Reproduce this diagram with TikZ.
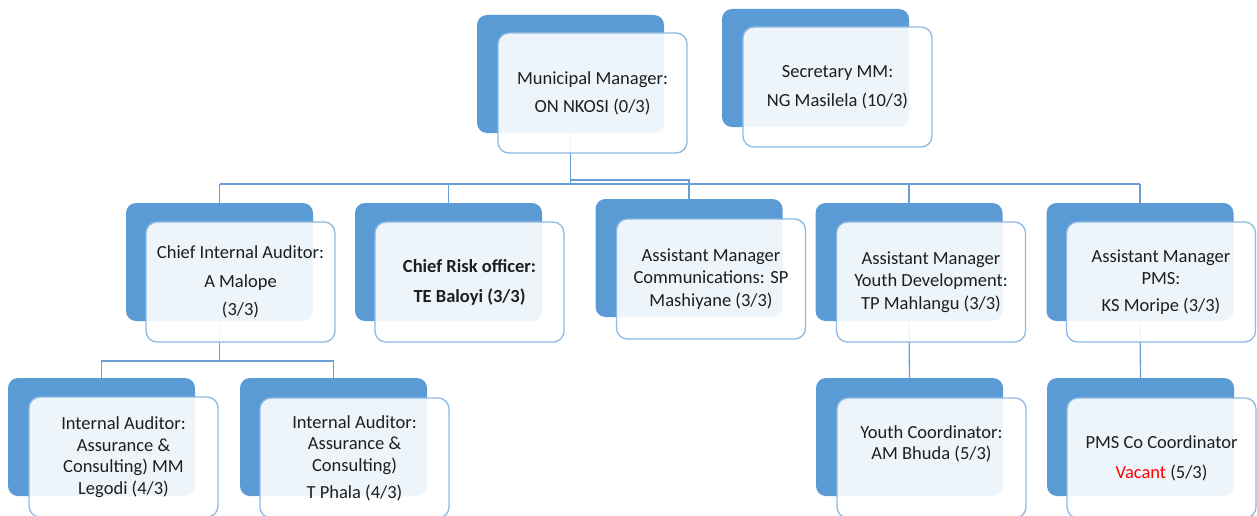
\documentclass[tikz,border=0pt]{standalone}
\usepackage{fontspec}
\setmainfont{Carlito}
\usetikzlibrary{backgrounds}
\definecolor{accent}{HTML}{5B9BD5}
\definecolor{frontline}{HTML}{8DB9E2}
\definecolor{conn}{HTML}{6A9FD6}
\definecolor{txt}{HTML}{1E1E1E}
\definecolor{vacant}{HTML}{FF0000}
\begin{document}
\begin{tikzpicture}[x=1pt,y=-1pt,
  back/.style={fill=accent, draw=none, rounded corners=10pt, minimum width=187pt, minimum height=118pt, inner sep=0pt},
  front/.style={draw=frontline, line width=1.3pt, fill=white, fill opacity=0.9, text opacity=1, rounded corners=11pt, minimum width=189pt, minimum height=120pt, inner sep=0pt, align=center, text=txt, font=\fontsize{18.5}{22.5}\selectfont},
  tight/.style={font=\fontsize{18.5}{21.5}\selectfont},
  link/.style={draw=conn, line width=1.3pt}]
\clip (0,0) rectangle (1257,516);
% top level
\node[back] (mmb) at (570.5,74) {};
\node[front] (mm) at (592.5,93) {Municipal Manager:\\[5.5pt] ON NKOSI (0/3)};
\node[back] (secb) at (815.5,68) {};
\node[front] (sec) at (837.5,87) {Secretary MM:\\[6.5pt] NG Masilela (10/3)};
% second level
\node[back] (ciab) at (219.5,262) {};
\node[front] (cia) at (240.5,282) {Chief Internal Auditor:\\[7pt] A Malope\\[5.5pt] (3/3)};
\node[back] (crob) at (448.5,262) {};
\node[front] (cro) at (469.5,282) {\textbf{Chief Risk officer:}\\[7.5pt] \textbf{TE Baloyi (3/3)}};
\node[back] (commb) at (689,258) {};
\node[front] (comm) at (711,279) {Assistant Manager\\ Communications: SP\\ Mashiyane (3/3)};
\node[back] (ydb) at (909,262) {};
\node[front] (yd) at (931,282) {Assistant Manager\\ Youth Development:\\ TP Mahlangu (3/3)};
\node[back] (pmsb) at (1140,262) {};
\node[front] (pms) at (1161,282) {Assistant Manager\\ PMS:\\[4.5pt] KS Moripe (3/3)};
% third level
\node[back] (ia1b) at (101.5,437) {};
\node[front,tight] (ia1) at (123.5,457) {Internal Auditor:\\ Assurance \&\\ Consulting) MM\\ Legodi (4/3)};
\node[back] (ia2b) at (333.5,437) {};
\node[front,tight] (ia2) at (354.5,458) {Internal Auditor:\\ Assurance \&\\ Consulting)\\[5.5pt] T Phala (4/3)};
\node[back] (ycb) at (909.5,437) {};
\node[front] (yc) at (931.5,458) {Youth Coordinator:\\[-1.5pt] AM Bhuda (5/3)\\[8.5pt]\mbox{}};
\node[back] (pmscob) at (1140.5,437) {};
\node[front] (pmsco) at (1161.5,458) {PMS Co Coordinator\\[7.5pt] \textcolor{vacant}{Vacant} (5/3)};
% connectors
\begin{scope}[on background layer]
\coordinate (bus) at (0,184);
\coordinate (bustwo) at (0,180);
\coordinate (busthree) at (0,361);
\draw[link] (mmb.south) -- (mmb.south |- bus);
\draw[link] (ciab.north |- bus) -- (pmsb.north |- bus);
\foreach \n in {ciab,crob,ydb,pmsb} \draw[link] (\n.north |- bus) -- (\n.north);
\draw[link] (mmb.south |- bustwo) -- (commb.north |- bustwo) -- (commb.north);
\draw[link] (ciab.south) -- (ciab.south |- busthree);
\draw[link] (ia1b.north) -- (ia1b.north |- busthree) -- (ia2b.north |- busthree) -- (ia2b.north);
\draw[link] (ydb.south) -- (ycb.north);
\draw[link] (pmsb.south) -- (pmscob.north);
\end{scope}
\end{tikzpicture}
\end{document}
